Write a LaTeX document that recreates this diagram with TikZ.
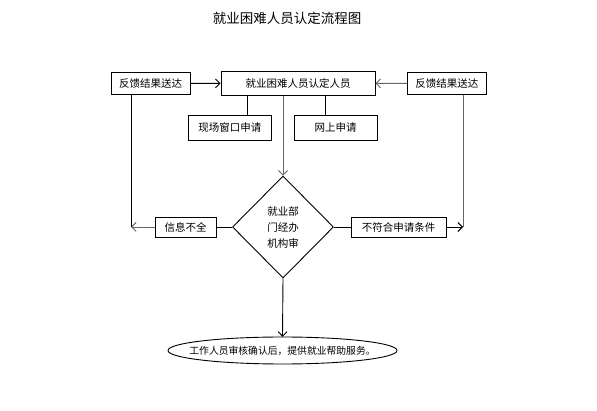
\documentclass[tikz,border=0pt]{standalone}
\usepackage{fontspec}
\setmainfont{Noto Sans CJK SC}
\usepackage{xcolor}
\usetikzlibrary{shapes.geometric,arrows.meta}
\definecolor{lgray}{RGB}{95,108,95}

\tikzset{
  box/.style={draw, line width=0.9pt, inner sep=0pt, minimum height=22pt, font=\fontsize{10.5}{12}\selectfont},
  flow/.style={line width=0.9pt},
  arr/.style={-{Straight Barb[length=4.5pt,width=9pt]}}
}

\begin{document}
\begin{tikzpicture}[x=1pt,y=-1pt]
\useasboundingbox (0,0) rectangle (597,411);

\node[font=\fontsize{13.5}{15}\selectfont] (title) at (287,18) {就业困难人员认定流程图};

\node[box, minimum width=79pt] (fbl) at (150.5,83.5) {反馈结果送达};
\node[box, minimum width=154pt, minimum height=24.5pt] (main) at (298,83.3) {就业困难人员认定人员};
\node[box, minimum width=79pt] (fbr) at (446.8,83.5) {反馈结果送达};
\node[box, minimum width=83.5pt, minimum height=25pt] (xc) at (229.8,127.5) {现场窗口申请};
\node[box, minimum width=83pt, minimum height=25pt] (ws) at (335.5,127.5) {网上申请};

\node[draw, diamond, line width=0.9pt, minimum width=101pt, minimum height=102pt, inner sep=0pt,
  align=center, font=\fontsize{10.5}{16}\selectfont] (dia) at (283,227) {就业部\\门经办\\机构审};
\node[box, minimum width=61pt, minimum height=20pt] (info) at (185.5,227) {信息不全};
\node[box, minimum width=95pt, minimum height=20pt] (nf) at (398.5,227) {不符合申请条件};
\node[inner sep=0pt, minimum width=229pt, minimum height=27pt,
  font=\fontsize{9.8}{11}\selectfont] (end) at (282.5,350.5) {工作人员审核确认后，提供就业帮助服务。};
\path[draw,flow] (end) ellipse (114.5 and 13.5);

\coordinate (xcTop) at (247.7,115);
\coordinate (wsTop) at (325.7,115);
\coordinate (lc) at (131,227);
\coordinate (rc) at (463,227);

\path[draw,flow,arr] (fbl) -- (main);
\path[draw,flow,arr,lgray] (fbr) -- (main);
\path[draw,flow] (xcTop |- main.south) -- (xcTop);
\path[draw,flow] (wsTop |- main.south) -- (wsTop);
\path[draw,flow,arr,lgray] (main.south -| dia.north) -- (dia.north);
\path[draw,flow] (dia.west) -- (info.east);
\path[draw,flow] (dia.east) -- (nf.west);
\path[draw,flow,arr,lgray] (info) -- (lc);
\path[draw,flow] (fbl.south -| lc) -- (lc);
\path[draw,flow,arr] (nf) -- (rc);
\path[draw,flow,lgray] (fbr.south -| rc) -- (rc);
\path[draw,flow,arr] (dia.south) -- (end.north);
\end{tikzpicture}
\end{document}
